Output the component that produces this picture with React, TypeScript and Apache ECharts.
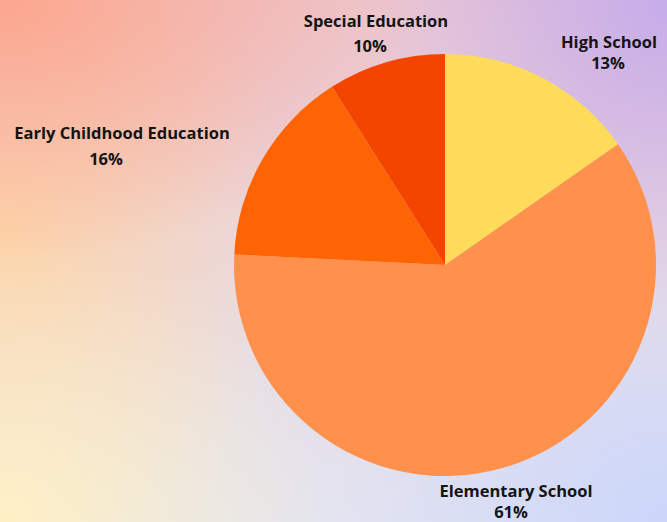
import React, { useEffect, useRef } from "react";
import * as echarts from "echarts";

// Categories, slice shares and printed percentage labels
const categories = ["High School", "Elementary School", "Early Childhood Education", "Special Education"];
const shares = [15.3, 60.5, 15.2, 9.0];
const percentLabels = ["13%", "61%", "16%", "10%"];
const colors = ["#FEDC5A", "#FF914D", "#FF6404", "#F44500"];

// label layout (centre of each two-line label), line heights, and left shift of the % line
const labelPos: [number, number][] = [
  [609, 52],
  [516, 500.5],
  [122, 145],
  [376, 32.5],
];
const lineHeights = [21, 21, 26, 25];
const pctShift = [1, 5, 16, 6];

const FONT = "'Open Sans', Lato, sans-serif";

export default function App() {
  const ref = useRef<HTMLDivElement>(null);
  useEffect(() => {
    if (!ref.current) return;
    const chart = echarts.init(ref.current, undefined, { renderer: "svg" });
    chart.setOption({
      animation: false,
      backgroundColor: "transparent",
      series: [
        {
          type: "pie",
          center: [445, 265],
          radius: 211,
          startAngle: 90,
          clockwise: true,
          avoidLabelOverlap: false,
          silent: true,
          labelLine: { show: false },
          label: {
            show: true,
            position: "outside",
            color: "#141414",
            fontFamily: FONT,
            fontWeight: "bold",
            fontSize: 16.5,
          },
          labelLayout: (params: any) => {
            const i = params.dataIndex;
            return { x: labelPos[i][0], y: labelPos[i][1], align: "center", verticalAlign: "middle" };
          },
          data: categories.map((name, i) => ({
            name,
            value: shares[i],
            itemStyle: { color: colors[i], borderWidth: 0 },
            label: {
              formatter: `{n|${name}}\n{p|${percentLabels[i]}}`,
              rich: {
                n: {
                  lineHeight: lineHeights[i],
                  fontSize: 16.5,
                  fontWeight: "bold",
                  color: "#141414",
                  fontFamily: FONT,
                },
                p: {
                  lineHeight: lineHeights[i],
                  fontSize: 16.5,
                  fontWeight: "bold",
                  color: "#141414",
                  fontFamily: FONT,
                  padding: [0, pctShift[i] * 2, 0, 0],
                },
              },
            },
          })),
        },
      ],
    });
    return () => chart.dispose();
  }, []);

  const bg = [
    "radial-gradient(ellipse 65% 50% at 0% 0%, rgba(252,166,142,1) 0%, rgba(252,166,142,0) 100%)",
    "radial-gradient(ellipse 50% 55% at 0% 100%, rgba(255,240,196,1) 0%, rgba(255,240,196,0) 100%)",
    "radial-gradient(ellipse 45% 60% at 100% 0%, rgba(198,172,234,1) 0%, rgba(198,172,234,0) 100%)",
    "radial-gradient(ellipse 50% 55% at 100% 100%, rgba(204,214,250,1) 0%, rgba(204,214,250,0) 100%)",
    "radial-gradient(ellipse 45% 60% at 0% 45%, rgba(253,212,168,1) 0%, rgba(253,212,168,0) 100%)",
    "linear-gradient(180deg, #EBC8D2 0%, #E7DCE6 60%, #E3E4F0 100%)",
  ].join(", ");

  return (
    <div
      style={{
        position: "fixed",
        left: 0,
        top: 0,
        width: 667,
        height: 522,
        background: bg,
      }}
    >
      <div ref={ref} style={{ width: 667, height: 522 }} />
    </div>
  );
}
